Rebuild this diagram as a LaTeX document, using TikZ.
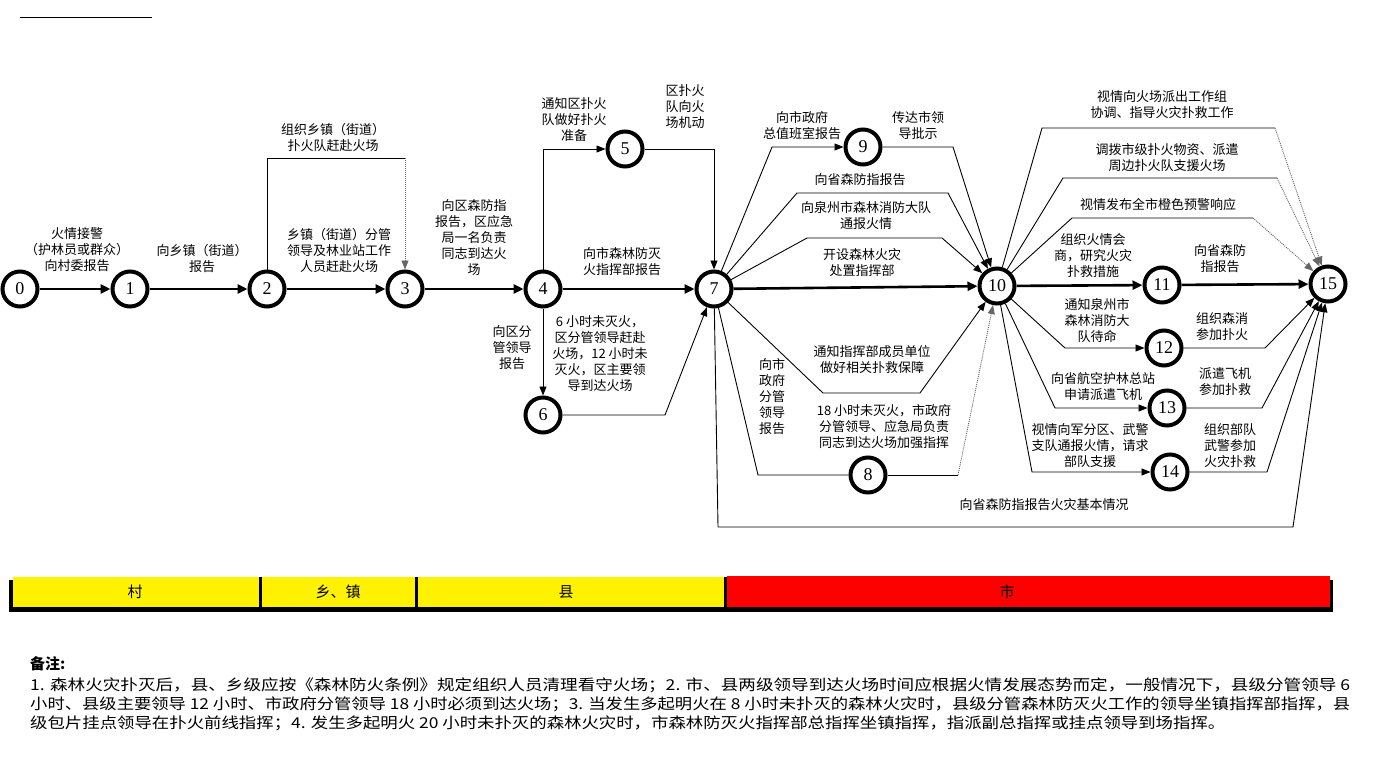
\documentclass[tikz,border=0pt]{standalone}
\usepackage{fontspec}
\usepackage{graphicx}
\setmainfont{Noto Sans CJK SC}
\newfontfamily\numfont{Liberation Serif}
\usetikzlibrary{arrows.meta}
\begin{document}
\begin{tikzpicture}[x=1pt,y=-1pt,
  circ/.style={circle,draw,fill=white,line width=4pt,minimum size=35pt,inner sep=0pt,font=\numfont\fontsize{18}{18}\selectfont},
  lbl/.style={align=center,inner sep=0pt,font=\fontsize{13}{16}\selectfont},
  fat/.style={line width=2.6pt,-{Triangle[length=10pt,width=9pt]}},
  slimline/.style={line width=0.9pt},
  slim/.style={line width=0.9pt,-{Triangle[length=9pt,width=7pt]}},
  dots/.style={line width=0.9pt,gray,dash pattern=on 1pt off 1pt,-{Triangle[length=9pt,width=7pt]},draw=black!60},
  band/.style={inner sep=0pt,font=\fontsize{15}{15}\selectfont},
  note/.style={anchor=west,inner sep=0pt,font=\fontsize{15}{18}\selectfont}]
\useasboundingbox (0,0) rectangle (1378,773);
% top rule
\draw[line width=1pt] (20,18) -- (152,18);
% nodes
\node[circ] (n0) at (20,289) {0};
\node[circ] (n1) at (130,289) {1};
\node[circ] (n2) at (267,289) {2};
\node[circ] (n3) at (405,289) {3};
\node[circ] (n4) at (543,289) {4};
\node[circ] (n5) at (625,149) {5};
\node[circ] (n6) at (543,415) {6};
\node[circ] (n7) at (714,289) {7};
\node[circ] (n8) at (868,475) {8};
\node[circ] (n9) at (863,147) {9};
\node[circ] (n10) at (997,286) {10};
\node[circ] (n11) at (1162,285) {11};
\node[circ] (n12) at (1164,348) {12};
\node[circ] (n13) at (1167,408) {13};
\node[circ] (n14) at (1170,472) {14};
\node[circ] (n15) at (1328,284) {15};
% main thick arrows
\draw[fat] (n0) -- (n1);
\draw[fat] (n1) -- (n2);
\draw[fat] (n2) -- (n3);
\draw[fat] (n3) -- (n4);
\draw[fat] (n4) -- (n7);
\draw[fat] (n7) -- (n10);
\draw[fat] (n10) -- (n11);
\draw[fat] (n11) -- (n15);
% bend coordinates
\coordinate (a23) at (267,158); \coordinate (b23) at (405,158);
\coordinate (a45) at (543,149);
\coordinate (a57) at (714,149);
\coordinate (a67) at (665,415);
\coordinate (a79) at (772,147);
\coordinate (a710) at (797,193); \coordinate (b710) at (948,193);
\coordinate (c710) at (807,238); \coordinate (d710) at (942,238);
\coordinate (a910) at (953,147);
\coordinate (e710) at (823,393); \coordinate (f710) at (920,393);
\coordinate (a78) at (758,475);
\coordinate (a810) at (958,475);
\coordinate (a715) at (718,527); \coordinate (b715) at (1293,527);
\coordinate (p1) at (1042,128); \coordinate (q1) at (1275,128);
\coordinate (p2) at (1063,178); \coordinate (q2) at (1277,178);
\coordinate (p3) at (1072,218); \coordinate (q3) at (1253,218);
\coordinate (a1012) at (1065,348);
\coordinate (a1013) at (1055,408);
\coordinate (a1014) at (1032,472);
\coordinate (a1215) at (1265,348);
\coordinate (a1315) at (1262,408);
\coordinate (a1415) at (1267,472);
% connectors
\draw[slimline] (n2) -- (a23) -- (b23);
\draw[dots] (b23) -- (n3);
\draw[slim] (n4) -- (a45) -- (n5);
\draw[slim] (n5) -- (a57) -- (n7);
\draw[slim] (n4) -- (n6);
\draw[slim] (n6) -- (a67) -- (n7);
\draw[slim] (n7) -- (a79) -- (n9);
\draw[slim] (n7) -- (a710) -- (b710) -- (n10);
\draw[slim] (n7) -- (c710) -- (d710) -- (n10);
\draw[slim] (n9) -- (a910) -- (n10);
\draw[slim] (n7) -- (e710) -- (f710) -- (n10);
\draw[slimline] (n7) -- (a78) -- (n8);
\draw[slimline] (n8) -- (a810);
\draw[dots] (a810) -- (n10);
\draw[slim] (n7) -- (a715) -- (b715) -- (n15);
\draw[slimline] (n10) -- (p1) -- (q1);
\draw[dots] (q1) -- (n15);
\draw[slimline] (n10) -- (p2) -- (q2);
\draw[dots] (q2) -- (n15);
\draw[slimline] (n10) -- (p3) -- (q3);
\draw[dots] (q3) -- (n15);
\draw[slim] (n10) -- (a1012) -- (n12);
\draw[slim] (n10) -- (a1013) -- (n13);
\draw[slim] (n10) -- (a1014) -- (n14);
\draw[slim] (n12) -- (a1215) -- (n15);
\draw[slim] (n13) -- (a1315) -- (n15);
\draw[slim] (n14) -- (a1415) -- (n15);
% labels
\node[lbl] (t01) at (77,250) {火情接警\\（护林员或群众）\\向村委报告};
\node[lbl] (t12) at (202,259) {向乡镇（街道）\\报告};
\node[lbl] (t23u) at (333,138) {组织乡镇（街道）\\扑火队赶赴火场};
\node[lbl] (t23) at (339,251) {乡镇（街道）分管\\领导及林业站工作\\人员赶赴火场};
\node[lbl] (t34) at (474,238) {向区森防指\\报告，区应急\\局一名负责\\同志到达火\\场};
\node[lbl] (t45) at (574,120) {通知区扑火\\队做好扑火\\准备};
\node[lbl] (t57) at (685,107) {区扑火\\队向火\\场机动};
\node[lbl] (t47) at (622,262) {向市森林防灭\\火指挥部报告};
\node[lbl] (t46) at (512,348) {向区分\\管领导\\报告};
\node[lbl] (t67) at (600,354) {6 小时未灭火，\\区分管领导赶赴\\火场，12 小时未\\灭火，区主要领\\导到达火场};
\node[lbl] (t79) at (802,126) {向市政府\\总值班室报告};
\node[lbl] (t910) at (918,126) {传达市领\\导批示};
\node[lbl] (t710a) at (860,180) {向省森防指报告};
\node[lbl] (t710b) at (866,216) {向泉州市森林消防大队\\通报火情};
\node[lbl] (t710c) at (862,263) {开设森林火灾\\处置指挥部};
\node[lbl] (t710d) at (872,360) {通知指挥部成员单位\\做好相关扑救保障};
\node[lbl] (t78) at (772,397) {向市\\政府\\分管\\领导\\报告};
\node[lbl] (t810) at (884,427) {18 小时未灭火，市政府\\分管领导、应急局负责\\同志到达火场加强指挥};
\node[lbl] (t715) at (1044,505) {向省森防指报告火灾基本情况};
\node[lbl] (t1) at (1162,105) {视情向火场派出工作组\\协调、指导火灾扑救工作};
\node[lbl] (t2) at (1167,158) {调拨市级扑火物资、派遣\\周边扑火队支援火场};
\node[lbl] (t3) at (1158,205) {视情发布全市橙色预警响应};
\node[lbl] (t1011) at (1093,256) {组织火情会\\商，研究火灾\\扑救措施};
\node[lbl] (t1115) at (1220,259) {向省森防\\指报告};
\node[lbl] (t1012) at (1097,321) {通知泉州市\\森林消防大\\队待命};
\node[lbl] (t1215) at (1222,327) {组织森消\\参加扑火};
\node[lbl] (t1013) at (1103,387) {向省航空护林总站\\申请派遣飞机};
\node[lbl] (t1315) at (1225,382) {派遣飞机\\参加扑救};
\node[lbl] (t1014) at (1090,446) {视情向军分区、武警\\支队通报火情，请求\\部队支援};
\node[lbl] (t1415) at (1230,446) {组织部队\\武警参加\\火灾扑救};
% band
\fill[black] (9,580) rectangle (1333,612);
\fill[yellow] (13,577) rectangle (724,607);
\fill[red] (727,576) rectangle (1330,607);
\fill[black] (259,577) rectangle (262,607);
\fill[black] (415,577) rectangle (418,607);
\fill[black] (724,577) rectangle (727,607);
\node[band] (bc) at (135,592) {村};
\node[band] (bx) at (338,592) {乡、镇};
\node[band] (bq) at (566,592) {县};
\node[band] (bs) at (1007,592) {市};
% notes
\node[note,font=\bfseries\fontsize{15}{18}\selectfont] (nt) at (30,664) {备注:};
\node[note] (l1) at (30,685) {\resizebox{1320pt}{\height}{1. 森林火灾扑灭后，县、乡级应按《森林防火条例》规定组织人员清理看守火场；2. 市、县两级领导到达火场时间应根据火情发展态势而定，一般情况下，县级分管领导 6}};
\node[note] (l2) at (30,704) {\resizebox{1320pt}{\height}{小时、县级主要领导 12 小时、市政府分管领导 18 小时必须到达火场；3. 当发生多起明火在 8 小时未扑灭的森林火灾时，县级分管森林防灭火工作的领导坐镇指挥部指挥，县}};
\node[note] (l3) at (30,723) {\resizebox{1195pt}{\height}{级包片挂点领导在扑火前线指挥；4. 发生多起明火 20 小时未扑灭的森林火灾时，市森林防灭火指挥部总指挥坐镇指挥，指派副总指挥或挂点领导到场指挥。}};
\end{tikzpicture}
\end{document}
